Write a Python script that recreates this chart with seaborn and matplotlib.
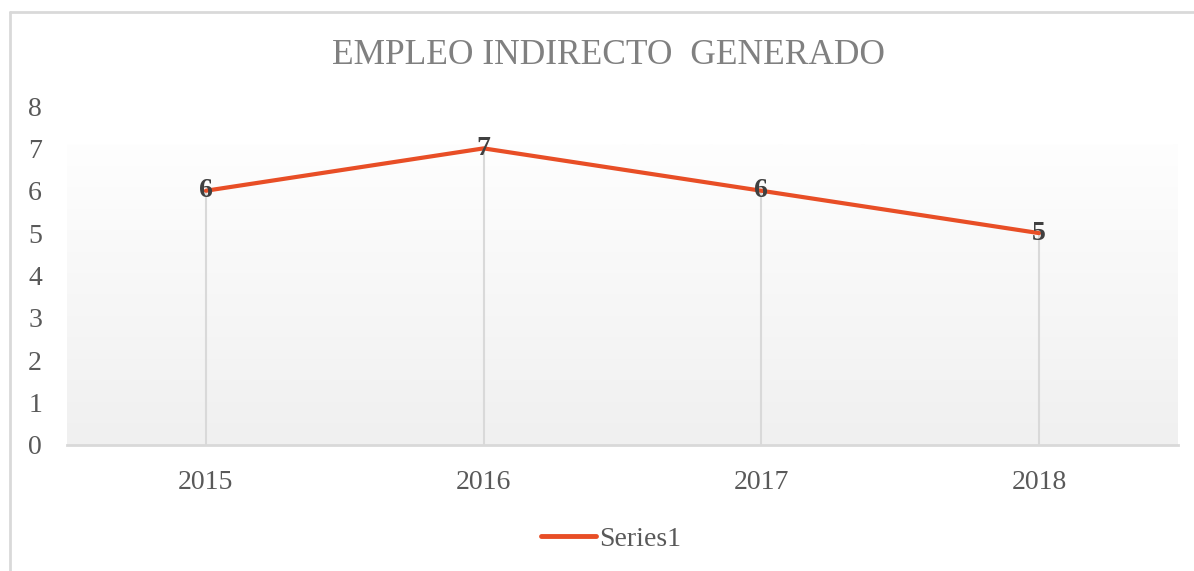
import numpy as np
import pandas as pd
import seaborn as sns
import matplotlib.pyplot as plt
from matplotlib.lines import Line2D

years = ["2015", "2016", "2017", "2018"]
values = [6, 7, 6, 5]
series_name = "Series1"
title = "EMPLEO INDIRECTO  GENERADO"

df = pd.DataFrame({"year": years, "value": values})

sns.set_style("white")
plt.rcParams["font.family"] = ["Liberation Serif", "DejaVu Serif"]

fig = plt.figure(figsize=(11.94, 5.71), dpi=100)
ax = fig.add_axes([67 / 1194, 126 / 571, 1111 / 1194, 339 / 571])

# plot area gradient (white at top to light gray at bottom)
grad = np.linspace(0, 1, 256).reshape(-1, 1)
ax.imshow(grad, extent=[-0.5, 3.5, 0, 7.08], aspect="auto", origin="upper",
          cmap=sns.blend_palette(["#fefefe", "#f0f0f0"], as_cmap=True),
          vmin=0, vmax=1, zorder=0)

# drop lines
xpos = np.arange(len(years))
ax.vlines(xpos, 0, df["value"], color="#d9d9d9", lw=1.5, zorder=1)

sns.lineplot(data=df, x="year", y="value", color="#e84e26", lw=3,
             ax=ax, zorder=3, sort=False)

for i, v in enumerate(values):
    ax.text(i, v, str(v), ha="center", va="center", fontsize=20,
            fontweight="bold", color="#404040", zorder=4)

ax.set_xlim(-0.5, 3.5)
ax.set_ylim(0, 8)
ax.set_yticks(range(0, 9))
ax.set_xlabel("")
ax.set_ylabel("")
for s in ["top", "right", "left"]:
    ax.spines[s].set_visible(False)
ax.spines["bottom"].set_color("#d9d9d9")
ax.spines["bottom"].set_linewidth(2)
ax.tick_params(axis="x", length=0, pad=18, labelsize=20, labelcolor="#595959")
ax.tick_params(axis="y", length=0, pad=28, labelsize=20, labelcolor="#595959")
for lab in ax.get_yticklabels():
    lab.set_horizontalalignment("left")

fig.text(608 / 1194, 1 - 56 / 571, title, ha="center", va="center",
         fontsize=25.5, color="#808080")

handle = Line2D([], [], color="#e84e26", lw=3.5, solid_capstyle="round")
fig.legend([handle], [series_name], loc="center", bbox_to_anchor=(611 / 1194, 1 - 539 / 571),
           frameon=False, fontsize=20, handlelength=2.0, handletextpad=0.1,
           labelcolor="#595959")

# outer chart border (top and left visible)
fig.add_artist(Line2D([10 / 1194, 1], [1 - 12 / 571, 1 - 12 / 571],
                      color="#d9d9d9", lw=2, transform=fig.transFigure))
fig.add_artist(Line2D([10 / 1194, 10 / 1194], [0, 1 - 12 / 571],
                      color="#d9d9d9", lw=2, transform=fig.transFigure))

fig.savefig("out.png", dpi=100)
